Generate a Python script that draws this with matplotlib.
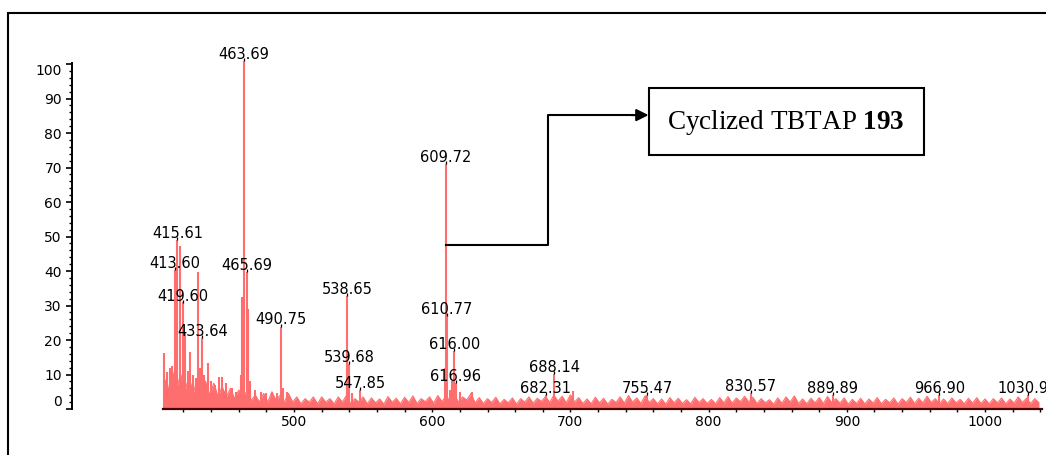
import numpy as np
import matplotlib
matplotlib.use("Agg")
import matplotlib.pyplot as plt
from matplotlib.patches import Rectangle

plt.rcParams['font.family'] = ['DejaVu Sans']
plt.rcParams['mathtext.fontset'] = 'custom'
plt.rcParams['mathtext.rm'] = 'Liberation Serif'
plt.rcParams['mathtext.bf'] = 'Liberation Serif:bold'

# Baseline noise of the spectrum, read every 3 m/z from 406 to 1039
noise_start = 406
noise_step = 3
noise_level = [
    9.0, 5.5, 11.0, 6.0, 10.0, 5.0, 9.5, 4.5, 8.5, 5.0,
    8.0, 4.0, 7.5, 3.5, 6.5, 3.5, 6.0, 3.0, 5.5, 4.0,
    5.0, 2.5, 4.0, 2.0, 4.5, 2.0, 5.0, 2.5, 4.0, 2.0,
    4.5, 2.0, 3.5, 1.5, 3.0, 2.0, 3.5, 1.5, 3.5, 2.0,
    3.0, 1.5, 3.5, 2.0, 4.0, 1.5, 3.0, 2.0, 3.5, 1.5,
    3.2, 1.8, 2.9, 1.4, 3.6, 2.0, 3.1, 1.5, 3.4, 1.9,
    3.8, 1.6, 3.0, 2.1, 3.5, 1.7, 3.9, 2.2, 3.6, 2.4,
    4.2, 2.0, 3.5, 2.6, 4.5, 1.8, 3.3, 1.6, 3.0, 1.9,
    3.4, 1.5, 2.8, 1.8, 3.2, 1.4, 3.0, 2.0, 3.5, 1.7,
    3.1, 2.2, 3.6, 1.9, 4.0, 2.3, 3.7, 1.8, 4.1, 2.0,
    3.3, 1.6, 2.9, 1.5, 3.4, 1.8, 3.1, 1.4, 2.8, 1.9,
    3.5, 1.7, 3.9, 2.0, 3.2, 1.6, 3.8, 1.9, 3.0, 1.5,
    2.9, 1.4, 3.3, 1.8, 3.1, 1.6, 2.7, 1.5, 3.4, 1.9,
    3.0, 1.6, 2.8, 1.5, 3.3, 1.8, 3.6, 1.7, 3.2, 2.1,
    3.7, 2.0, 3.4, 1.6, 3.0, 1.8, 2.7, 1.4, 3.2, 1.7,
    3.5, 2.0, 3.8, 1.6, 2.9, 1.5, 3.1, 1.8, 3.3, 1.6,
    3.6, 1.9, 3.0, 1.7, 3.2, 1.4, 2.8, 1.6, 3.1, 1.5,
    2.9, 1.7, 3.3, 1.5, 2.8, 1.8, 3.2, 1.4, 3.0, 1.9,
    3.4, 1.6, 3.1, 1.8, 3.7, 1.9, 3.0, 1.5, 2.9, 1.6,
    3.2, 1.8, 2.8, 1.5, 3.1, 1.7, 3.3, 1.6, 2.9, 1.5,
    3.0, 1.8, 3.2, 1.5, 2.9, 1.7, 3.5, 1.9, 3.1, 1.6,
    3.0, 1.8,
]

# Peaks (m/z, relative intensity)
peak_mz = [405.6, 408.0, 410.0, 411.7, 413.60, 415.61, 417.6, 419.60, 421.0,
           423.0, 425.0, 427.0, 429.0, 430.6, 432.0, 433.64, 435.0, 437.7,
           440.0, 443.0, 445.5, 448.0, 451.0, 455.0, 458.0, 461.5, 462.7,
           463.69, 465.69, 466.6, 468.0, 472.0, 476.0, 480.0, 484.0, 488.0,
           490.75, 492.0, 495.0, 538.1, 538.65, 539.68, 542.0, 547.85,
           609.2, 609.72, 610.77, 613.0, 614.5, 616.00, 616.96, 620.0, 629.0,
           682.31, 688.14, 701.8, 755.47, 830.57, 889.89, 966.90, 1030.92]
peak_int = [16.2, 10.8, 12.0, 12.5, 40.3, 49.0, 47.2, 31.0, 22.0,
            11.0, 16.6, 10.0, 9.0, 39.6, 12.0, 20.6, 10.0, 13.2,
            8.0, 7.0, 9.4, 9.4, 7.5, 6.0, 5.0, 10.0, 32.4,
            100.8, 39.7, 29.0, 8.0, 5.5, 5.0, 4.5, 5.0, 4.5,
            23.9, 6.0, 5.0, 19.5, 32.8, 13.0, 4.5, 5.5,
            12.0, 71.0, 27.0, 5.5, 8.0, 16.8, 7.5, 5.0, 5.0,
            4.0, 10.1, 5.2, 4.0, 4.6, 4.0, 4.0, 4.0]

# Peak labels (text, m/z, height of the label mark)
label_text = ['463.69', '415.61', '413.60', '419.60', '433.64', '465.69',
              '490.75', '538.65', '539.68', '547.85', '609.72', '610.77',
              '616.00', '616.96', '682.31', '688.14', '755.47', '830.57',
              '889.89', '966.90', '1030.92']
label_mz = [463.69, 415.61, 413.60, 419.60, 433.64, 465.69,
            490.75, 538.65, 539.68, 547.85, 609.72, 610.77,
            616.00, 616.96, 682.31, 688.14, 755.47, 830.57,
            889.89, 966.90, 1030.92]
label_y = [100.8, 49.0, 40.3, 30.7, 20.6, 39.7,
           23.9, 32.8, 13.0, 5.5, 71.0, 27.0,
           16.8, 7.5, 4.0, 10.1, 4.0, 4.6,
           4.0, 4.0, 4.0]

spec_color = '#ff6e6e'

fig = plt.figure(figsize=(10.46, 4.55), dpi=100)
ax = fig.add_axes([0.1561, 0.1011, 0.8398, 0.7604])

noise_mz = noise_start + noise_step * np.arange(len(noise_level))
ax.fill_between(noise_mz, 0, noise_level, color=spec_color, lw=0)
ax.plot(noise_mz, noise_level, color=spec_color, lw=0.8)
ax.vlines(peak_mz, 0, peak_int, color=spec_color, lw=1.5, clip_on=False)

for t, x, y in zip(label_text, label_mz, label_y):
    ax.plot(x, y, marker=[(0, 0), (0, 1)], markersize=5, color='black',
            mew=0.9, clip_on=False)
    ax.annotate(t, (x, y), xytext=(0, -0.5), textcoords='offset points',
                ha='center', va='bottom', fontsize=10.5, annotation_clip=False)

# arrow from the 609.72 peak to the box
ax.plot([609.72, 684, 684, 745], [47.5, 47.5, 85.2, 85.2], color='black',
        lw=1.5, clip_on=False)
ax.annotate('', xy=(756.5, 85.2), xytext=(744, 85.2),
            arrowprops=dict(arrowstyle='-|>', color='black', lw=1.5,
                            mutation_scale=18, shrinkA=0, shrinkB=0),
            annotation_clip=False)
ax.add_patch(Rectangle((756.5, 73.6), 199.1, 19.4, fill=False, ec='black',
                       lw=1.5, clip_on=False))
ax.text(856.0, 83.2, r'Cyclized TBTAP $\mathbf{193}$', ha='center', va='center',
        fontsize=19.5, family='Liberation Serif')

ax.set_xlim(405.4, 1041)
ax.set_ylim(0, 100.3)
ax.set_xticks([500, 600, 700, 800, 900, 1000])
ax.set_xticks(np.arange(420, 1041, 20), minor=True)
ax.set_yticks(np.arange(0, 101, 10))
ax.set_yticks(np.arange(0, 101, 2), minor=True)

for s in ['top', 'right']:
    ax.spines[s].set_visible(False)
ax.spines['left'].set_position(('outward', 66))
ax.spines['left'].set_linewidth(1.4)
ax.spines['bottom'].set_color('#4a0000')
ax.spines['bottom'].set_linewidth(1.6)
ax.spines['bottom'].set_zorder(5)

ax.tick_params(axis='y', which='major', length=4, width=1.2, labelsize=10, pad=3)
ax.tick_params(axis='y', which='minor', length=2, width=1.0)
ax.tick_params(axis='x', which='both', length=2.5, width=1.0, labelsize=10, pad=2)

ylabels = ax.get_yticklabels()
ylabels[0].set_verticalalignment('bottom')
ylabels[-1].set_verticalalignment('top')

# outer frame of the figure
fig.patches.append(Rectangle((8 / 1046, -0.1), 1.2, 1.1 - 13 / 455, fill=False,
                             ec='black', lw=1.5, transform=fig.transFigure))

fig.savefig('out.png', dpi=100)
